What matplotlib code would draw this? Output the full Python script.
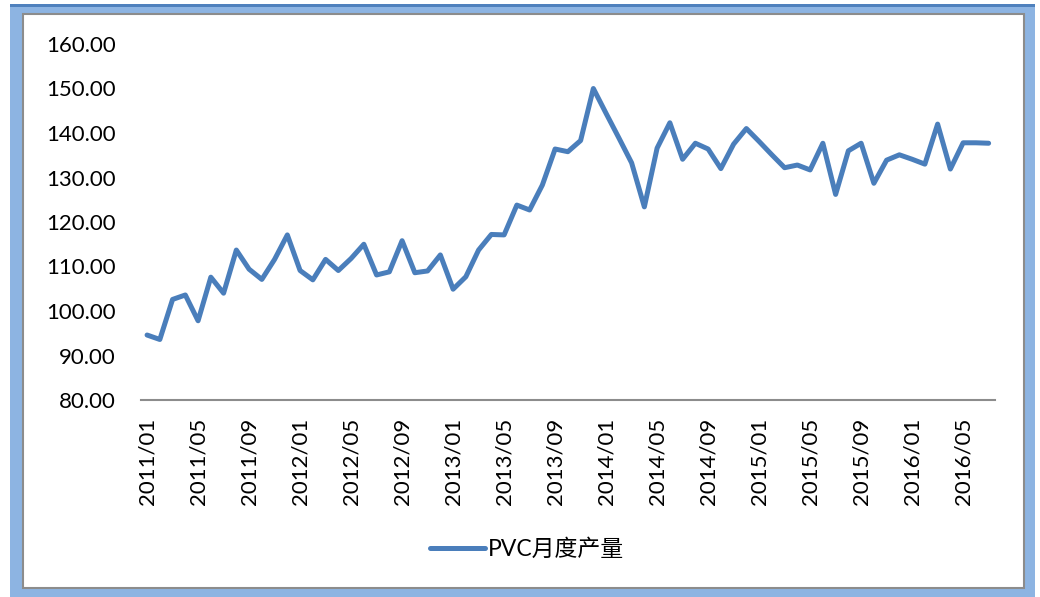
import matplotlib
matplotlib.use("Agg")
import matplotlib.pyplot as plt
from matplotlib.patches import Rectangle

# --- DATA ---
months = [f"{y}/{m:02d}" for y in range(2011, 2017) for m in range(1, 13)][:67]
pvc_output = [
    94.6, 93.6, 102.6, 103.6, 97.8, 107.6, 104.0, 113.7, 109.4, 107.1, 111.6, 117.1,
    109.1, 107.0, 111.6, 109.1, 111.8, 115.0, 108.1, 108.8, 115.8, 108.6, 109.0, 112.6,
    104.9, 107.7, 113.7, 117.2, 117.1, 123.8, 122.7, 128.3, 136.4, 135.8, 138.3, 150.0,
    144.4, 138.9, 133.3, 123.4, 136.6, 142.3, 134.1, 137.7, 136.4, 132.0, 137.5, 141.0,
    138.1, 135.1, 132.2, 132.8, 131.7, 137.7, 126.2, 136.0, 137.7, 128.7, 133.9, 135.1,
    134.1, 133.0, 142.0, 131.9, 137.8, 137.8, 137.7,
]
y_ticks = [80, 90, 100, 110, 120, 130, 140, 150, 160]

W, H = 1040, 597
fig = plt.figure(figsize=(W / 100, H / 100), dpi=100)

def px_rect(x0, y0, x1, y1, **kw):
    # rectangle given in image pixels (top-left origin)
    return Rectangle((x0 / W, 1 - y1 / H), (x1 - x0) / W, (y1 - y0) / H,
                     transform=fig.transFigure, **kw)

# --- FRAME ---
fig.patches.append(px_rect(10, 4, 1035, 600, facecolor="#8DB4E2", edgecolor="none", zorder=-3))
fig.patches.append(px_rect(10, 4, 1035, 7, facecolor="#4F81BD", edgecolor="none", zorder=-2))
fig.patches.append(px_rect(23, 14, 1024, 588, facecolor="white", edgecolor="#8C8C8C",
                           linewidth=1.5, zorder=-1))

# --- PLOT ---
ax = fig.add_axes([140.7 / W, 1 - 400 / H, (995 - 140.7) / W, (400 - 44) / H])
ax.set_zorder(2)
ax.patch.set_alpha(0)
x = list(range(len(months)))
ax.plot(x, pvc_output, color="#4A7EBB", linewidth=3.6, solid_capstyle="round",
        solid_joinstyle="round", label="PVC月度产量")

ax.set_xlim(-0.5, len(months) - 0.5)
ax.set_ylim(80, 160)
ax.set_yticks(y_ticks)
ax.set_yticklabels([f"{v:.2f}" for v in y_ticks], family=["Lato", "DejaVu Sans"], fontsize=16)
ax.set_xticks(x[::4])
ax.set_xticklabels(months[::4], rotation=90, family=["Lato", "DejaVu Sans"], fontsize=16)
ax.tick_params(axis="y", length=0, pad=18, colors="black")
ax.tick_params(axis="x", length=0, pad=13, colors="black")

for side in ["top", "right", "left"]:
    ax.spines[side].set_visible(False)
ax.spines["bottom"].set_color("#8C8C8C")
ax.spines["bottom"].set_linewidth(1.5)

ax.legend(loc="center", bbox_to_anchor=(527 / W, 1 - 549 / H), bbox_transform=fig.transFigure,
          frameon=False, handlelength=2.4, handletextpad=0.15,
          prop={"family": ["Lato", "Noto Sans CJK SC"], "size": 16.5})

fig.savefig("out.png", dpi=100)
